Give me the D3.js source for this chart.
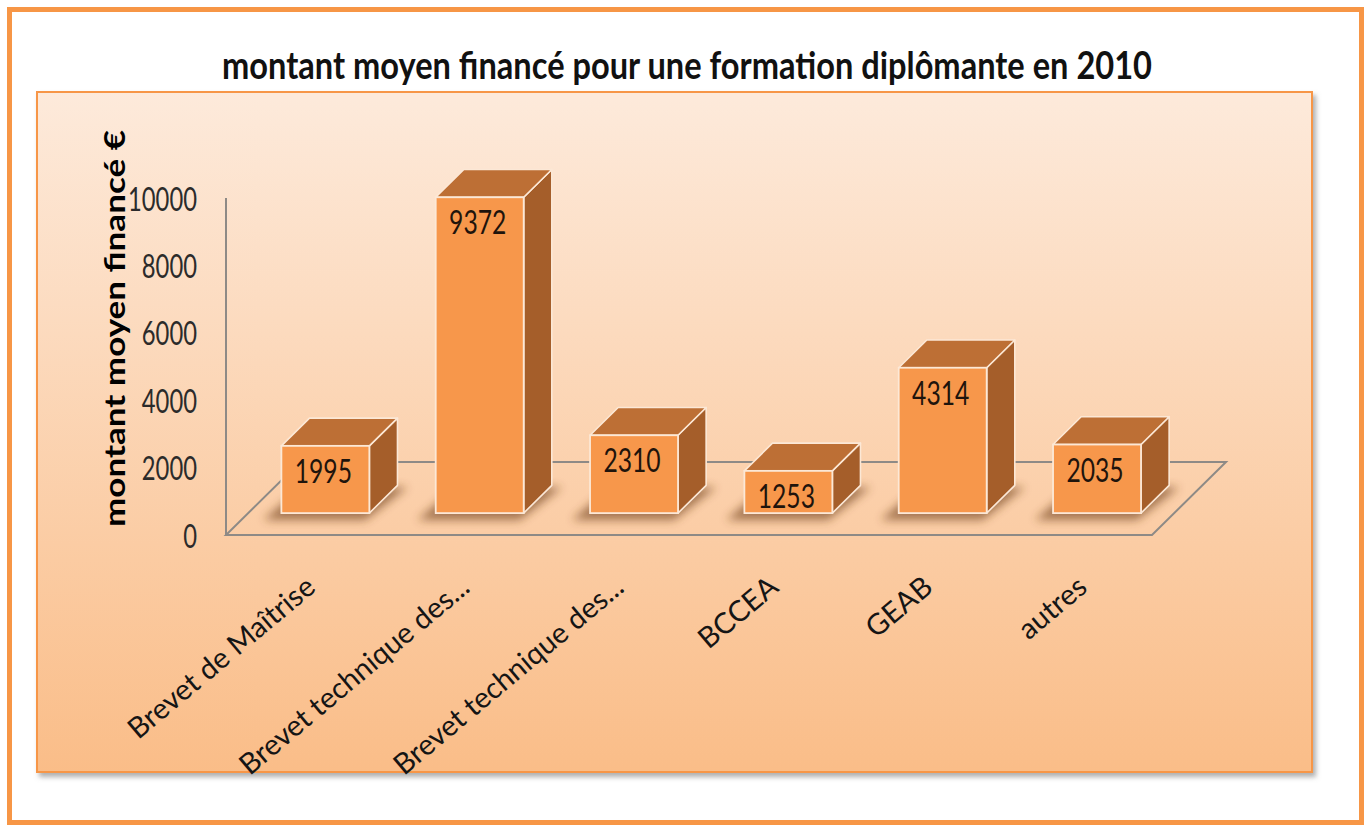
<!DOCTYPE html>
<html lang="fr">
<head>
<meta charset="utf-8">
<title>montant moyen financé pour une formation diplômante en 2010</title>
<script src="https://cdn.jsdelivr.net/npm/d3@7"></script>
<style>
  html, body { margin: 0; padding: 0; background: #ffffff; }
  svg { display: block; }
  text { font-family: Lato, "Open Sans", "Noto Sans", sans-serif; }
</style>
</head>
<body>
<svg id="chart" width="1371" height="826"></svg>
<script>
// Data
const chartTitle = "montant moyen financé pour une formation diplômante en 2010";
const yAxisTitle = "montant moyen financé €";
const categories = [
  "Brevet de Maîtrise",
  "Brevet technique des...",
  "Brevet technique des...",
  "BCCEA",
  "GEAB",
  "autres"
];
const values = [1995, 9372, 2310, 1253, 4314, 2035];
const yTicks = [0, 2000, 4000, 6000, 8000, 10000];

// Layout
const W = 1371, H = 826;
const floorLeft = 226, floorRight = 1152, floorFront = 535;
const depth = { dx: 74, dy: -73 };          // floor depth vector (front -> back)
const barFrontF = 0.30, barBackF = 0.68;    // bar position inside the floor depth

const colors = {
  front: "#F7974B",
  top: "#BD6F35",
  side: "#A55E2A",
  edge: "#FCE8D6",
  floor: "#8E8A86",
  frame: "#F79646"
};

const svg = d3.select("#chart");
const defs = svg.append("defs");

const grad = defs.append("linearGradient")
  .attr("id", "panelFill").attr("x1", 0).attr("y1", 0).attr("x2", 0).attr("y2", 1);
grad.append("stop").attr("offset", "0%").attr("stop-color", "#FDEADB");
grad.append("stop").attr("offset", "100%").attr("stop-color", "#FABD88");

const panelShadow = defs.append("filter").attr("id", "panelShadow")
  .attr("x", "-5%").attr("y", "-5%").attr("width", "110%").attr("height", "110%");
panelShadow.append("feDropShadow")
  .attr("dx", 3).attr("dy", 4).attr("stdDeviation", 2.5)
  .attr("flood-color", "#7a7a7a").attr("flood-opacity", 0.6);

const barShadow = defs.append("filter").attr("id", "barShadow")
  .attr("x", "-50%").attr("y", "-50%").attr("width", "200%").attr("height", "200%");
barShadow.append("feGaussianBlur").attr("stdDeviation", 5);

// Outer frame
svg.append("rect")
  .attr("x", 9.5).attr("y", 9.5).attr("width", W - 19).attr("height", H - 13)
  .attr("fill", "#ffffff").attr("stroke", colors.frame).attr("stroke-width", 5);

// Title
svg.append("text")
  .attr("x", 687).attr("y", 79)
  .attr("text-anchor", "middle")
  .attr("font-size", 38).attr("font-weight", 700)
  .attr("fill", "#111")
  .attr("textLength", 930).attr("lengthAdjust", "spacingAndGlyphs")
  .text(chartTitle);

// Plot panel
svg.append("rect")
  .attr("x", 37).attr("y", 92).attr("width", 1275).attr("height", 680)
  .attr("fill", "url(#panelFill)")
  .attr("stroke", colors.frame).attr("stroke-width", 2)
  .attr("filter", "url(#panelShadow)");

// Scales
const y = d3.scaleLinear().domain([0, 10000]).range([floorFront, 198]);
const x = d3.scaleBand()
  .domain(d3.range(categories.length))
  .range([floorLeft, floorRight])
  .paddingInner(0.43).paddingOuter(0.215);

// projection of a (x, y) point on the front plane moved back by depth fraction f
const P = (px, py, f) => [px + f * depth.dx, py + f * depth.dy];

// Floor outline
const floorPts = [
  P(floorLeft, floorFront, 0), P(floorRight, floorFront, 0),
  P(floorRight, floorFront, 1), P(floorLeft, floorFront, 1)
];
svg.append("polygon")
  .attr("points", floorPts.map(p => p.join(",")).join(" "))
  .attr("fill", "none").attr("stroke", colors.floor).attr("stroke-width", 2);

// Vertical axis line
svg.append("line")
  .attr("x1", floorLeft).attr("x2", floorLeft)
  .attr("y1", y(0)).attr("y2", y(10000))
  .attr("stroke", colors.floor).attr("stroke-width", 2);

// Y tick labels
svg.append("g").selectAll("text").data(yTicks).join("text")
  .attr("x", 197).attr("y", d => y(d) + 12.5)
  .attr("text-anchor", "end")
  .attr("font-size", 32).attr("fill", "#2b2b2b")
  .attr("textLength", d => String(d).length * 13.8).attr("lengthAdjust", "spacingAndGlyphs")
  .text(d => d);

// Y axis title
svg.append("text")
  .attr("transform", "translate(125,328.5) rotate(-90)")
  .attr("text-anchor", "middle")
  .attr("font-size", 29).attr("font-weight", 700).attr("fill", "#000")
  .attr("textLength", 397).attr("lengthAdjust", "spacingAndGlyphs")
  .text(yAxisTitle);

// Bars
const bw = x.bandwidth();
const bars = svg.append("g").selectAll("g").data(values).join("g");

bars.each(function (v, i) {
  const g = d3.select(this);
  const x0 = x(i);
  const x1 = x0 + bw;
  const [fx0, fyB] = P(x0, y(0), barFrontF);
  const [fx1] = P(x1, y(0), barFrontF);
  const fyT = P(x0, y(v), barFrontF)[1];
  const [bx0, byB] = P(x0, y(0), barBackF);
  const [bx1] = P(x1, y(0), barBackF);
  const byT = P(x0, y(v), barBackF)[1];

  // soft contact shadow on the floor
  g.append("polygon")
    .attr("points", [[fx0 - 18, fyB + 7], [fx1 - 4, fyB + 7], [bx1 + 10, byB + 2], [bx0 - 8, byB + 2]]
      .map(p => p.join(",")).join(" "))
    .attr("fill", "#6b3a18").attr("opacity", 0.6)
    .attr("filter", "url(#barShadow)");

  // right side face
  g.append("polygon")
    .attr("points", [[fx1, fyB], [fx1, fyT], [bx1, byT], [bx1, byB]].map(p => p.join(",")).join(" "))
    .attr("fill", colors.side).attr("stroke", colors.edge).attr("stroke-width", 1.6)
    .attr("stroke-linejoin", "round");

  // top face
  g.append("polygon")
    .attr("points", [[fx0, fyT], [fx1, fyT], [bx1, byT], [bx0, byT]].map(p => p.join(",")).join(" "))
    .attr("fill", colors.top).attr("stroke", colors.edge).attr("stroke-width", 1.6)
    .attr("stroke-linejoin", "round");

  // front face
  g.append("rect")
    .attr("x", fx0).attr("y", fyT).attr("width", fx1 - fx0).attr("height", fyB - fyT)
    .attr("fill", colors.front).attr("stroke", colors.edge).attr("stroke-width", 1.8);

  // value label on the front face
  g.append("text")
    .attr("x", (fx0 + fx1) / 2 - 2).attr("y", fyT + 25 + 12)
    .attr("text-anchor", "middle")
    .attr("font-size", 33).attr("fill", "#1f140c")
    .attr("textLength", String(v).length * 14.3).attr("lengthAdjust", "spacingAndGlyphs")
    .text(v);
});

// Category labels, rotated
svg.append("g").selectAll("text").data(categories).join("text")
  .attr("transform", (d, i) => `translate(${x(i) + bw / 2 + 14},590) rotate(-40)`)
  .attr("text-anchor", "end")
  .attr("font-size", 29).attr("fill", "#151515")
  .text(d => d);
</script>
</body>
</html>
